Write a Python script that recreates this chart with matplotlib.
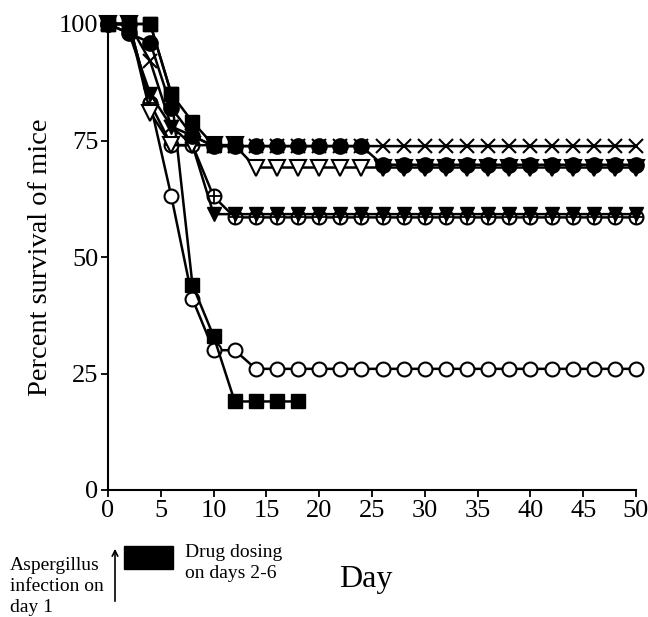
import numpy as np
import matplotlib.pyplot as plt

plt.rcParams['font.family'] = 'Liberation Serif'

# days sampled every 2 days
days = np.arange(0, 52, 2)

# survival (%) per treatment group
open_circle = [100, 100, 83, 63, 41, 30, 30] + [26] * 19
filled_square = [100, 100, 100, 85, 44, 33, 19, 19, 19, 19]
filled_square_b = [100, 100, 100, 85, 79, 74, 74]
circle_plus = [100, 100, 83, 74, 74, 63] + [58.5] * 20
filled_tri = [100, 98, 85, 78, 74] + [59.2] * 21
open_tri = [100, 100, 81, 74, 74, 74, 74] + [69.2] * 19
cross = [100, 100, 92, 78, 76] + [73.8] * 21
filled_circle = [100, 98, 96, 82, 76] + [73.8] * 8 + [69.8] * 13

fig = plt.figure(figsize=(6.48, 6.17), dpi=100)
ax = fig.add_axes([108 / 648, 127 / 617, 528 / 648, 466 / 617])

lw = 1.8
ms = 10

def line(vals, **kw):
    ax.plot(days[:len(vals)], vals, color='black', lw=lw, clip_on=False, **kw)

line(open_circle, marker='o', ms=ms, mfc='white', mec='black', mew=1.5)
line(filled_square, marker='s', ms=ms, mfc='black', mec='black')
line(circle_plus, marker='o', ms=ms, mfc='white', mec='black', mew=1.5)
ax.plot(days[:len(circle_plus)], circle_plus, ls='none', marker='+', ms=ms,
        mec='black', mew=1.3, clip_on=False)
line(filled_tri, marker='v', ms=ms, mfc='black', mec='black')
line(open_tri, marker='v', ms=ms + 1, mfc='white', mec='black', mew=1.5)
line(cross, marker='x', ms=ms, mec='black', mew=1.5)
line(filled_square_b, marker='s', ms=ms, mfc='black', mec='black')
line(filled_circle, marker='o', ms=ms + 1, mfc='black', mec='black')

ax.set_xlim(0, 50)
ax.set_ylim(0, 100)
ax.set_xticks(np.arange(0, 55, 5))
ax.set_yticks([0, 25, 50, 75, 100])
for s in ['top', 'right']:
    ax.spines[s].set_visible(False)
for s in ['left', 'bottom']:
    ax.spines[s].set_linewidth(1.5)
ax.tick_params(direction='out', length=5, width=1.3, labelsize=19, pad=2)
ax.set_ylabel('Percent survival of mice', fontsize=20.5, labelpad=4)

# annotations under the x axis
fig.text(366 / 648, 1 - 580 / 617, 'Day', fontsize=23, ha='center', va='center')
fig.add_artist(plt.Rectangle((124 / 648, 1 - 569 / 617), 49 / 648, 23 / 617,
                             color='black', transform=fig.transFigure))
fig.text(185 / 648, 1 - 544 / 617, 'Drug dosing\non days 2-6', fontsize=14,
         ha='left', va='top', linespacing=1.3)
fig.text(10 / 648, 1 - 557 / 617, 'Aspergillus\ninfection on\nday 1', fontsize=14,
         ha='left', va='top', linespacing=1.3)
ax.annotate('', xy=(115 / 648, 1 - 546 / 617), xycoords='figure fraction',
            xytext=(115 / 648, 1 - 604 / 617), textcoords='figure fraction',
            arrowprops=dict(arrowstyle='->', color='black', lw=1.2))

fig.savefig('out.png', dpi=100)
